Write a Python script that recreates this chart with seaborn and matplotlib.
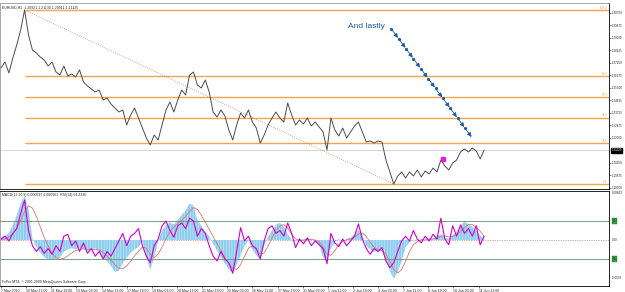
import numpy as np
import pandas as pd
import matplotlib
matplotlib.use("Agg")
import matplotlib.pyplot as plt
import matplotlib.transforms as mtransforms
import seaborn as sns

# hourly bars, sampled every 5 bars
bars = list(range(0, 616, 5))
close = [
    1.2688, 1.2730, 1.2653, 1.2758, 1.2849, 1.2954, 1.3094, 1.2919, 1.2814, 1.2793,
    1.2765, 1.2744, 1.2702, 1.2730, 1.2660, 1.2639, 1.2702, 1.2632, 1.2646, 1.2625,
    1.2674, 1.2590, 1.2562, 1.2541, 1.2520, 1.2534, 1.2464, 1.2478, 1.2436, 1.2408,
    1.2380, 1.2394, 1.2289, 1.2359, 1.2408, 1.2338, 1.2268, 1.2198, 1.2149, 1.2219,
    1.2184, 1.2289, 1.2394, 1.2450, 1.2380, 1.2464, 1.2534, 1.2499, 1.2639, 1.2660,
    1.2569, 1.2548, 1.2604, 1.2520, 1.2380, 1.2345, 1.2394, 1.2352, 1.2254, 1.2184,
    1.2289, 1.2373, 1.2338, 1.2394, 1.2310, 1.2268, 1.2163, 1.2219, 1.2289, 1.2338,
    1.2380, 1.2338, 1.2310, 1.2443, 1.2359, 1.2289, 1.2324, 1.2296, 1.2338, 1.2282,
    1.2310, 1.2275, 1.2240, 1.2114, 1.2338, 1.2254, 1.2212, 1.2268, 1.2198, 1.2240,
    1.2282, 1.2310, 1.2240, 1.2170, 1.2177, 1.2163, 1.2177, 1.2170, 1.2044, 1.1960,
    1.1876, 1.1932, 1.1960, 1.1918, 1.1960, 1.1932, 1.1974, 1.1925, 1.1967, 1.1946,
    1.1988, 1.1960, 1.2044, 1.2002, 1.1974, 1.2023, 1.2044, 1.2100, 1.2121, 1.2100,
    1.2128, 1.2107, 1.2051, 1.2113,
]
macd_main = [
    0.0005, 0.0007, 0.0012, 0.0025, 0.0042, 0.0062, 0.0075, 0.0052, 0.0002, -0.0012,
    -0.0022, -0.0029, -0.0033, -0.0034, -0.0032, -0.0030, -0.0020, -0.0016, -0.0014, -0.0016,
    -0.0013, -0.0015, -0.0018, -0.0016, -0.0014, -0.0020, -0.0030, -0.0036, -0.0044, -0.0054,
    -0.0052, -0.0040, -0.0030, -0.0022, -0.0016, -0.0012, -0.0002, -0.0030, -0.0050, -0.0030,
    -0.0002, 0.0016, 0.0025, 0.0030, 0.0026, 0.0034, 0.0042, 0.0050, 0.0062, 0.0058,
    0.0034, 0.0024, 0.0014, 0.0006, -0.0006, -0.0018, -0.0030, -0.0040, -0.0050, -0.0056,
    -0.0042, -0.0026, -0.0010, 0.0000, -0.0016, -0.0026, -0.0031, -0.0010, 0.0006, 0.0016,
    0.0026, 0.0029, 0.0022, 0.0010, 0.0000, -0.0003, 0.0003, -0.0002, 0.0004, 0.0001,
    -0.0003, -0.0008, -0.0030, -0.0036, -0.0014, -0.0004, 0.0002, -0.0003, 0.0002, 0.0004,
    0.0010, 0.0017, 0.0008, -0.0010, -0.0016, -0.0020, -0.0018, -0.0017, -0.0034, -0.0052,
    -0.0066, -0.0054, -0.0036, -0.0012, -0.0004, 0.0001, -0.0002, 0.0002, 0.0000, 0.0003,
    0.0001, 0.0006, 0.0010, 0.0004, 0.0002, 0.0008, 0.0014, 0.0024, 0.0031, 0.0027,
    0.0022, 0.0016, 0.0008, 0.0001,
]
macd_signal = [
    0.0000, 0.0002, 0.0005, 0.0010, 0.0020, 0.0033, 0.0048, 0.0058, 0.0054, 0.0040,
    0.0022, 0.0004, -0.0010, -0.0022, -0.0030, -0.0033, -0.0031, -0.0027, -0.0022, -0.0018,
    -0.0016, -0.0015, -0.0016, -0.0016, -0.0016, -0.0017, -0.0021, -0.0027, -0.0034, -0.0042,
    -0.0048, -0.0049, -0.0044, -0.0036, -0.0027, -0.0019, -0.0012, -0.0014, -0.0024, -0.0030,
    -0.0024, -0.0012, 0.0002, 0.0014, 0.0022, 0.0028, 0.0033, 0.0040, 0.0048, 0.0055,
    0.0052, 0.0042, 0.0030, 0.0018, 0.0006, -0.0006, -0.0018, -0.0030, -0.0040, -0.0048,
    -0.0050, -0.0042, -0.0028, -0.0014, -0.0010, -0.0016, -0.0024, -0.0022, -0.0010, 0.0004,
    0.0016, 0.0024, 0.0026, 0.0020, 0.0010, 0.0002, -0.0001, 0.0000, 0.0001, 0.0001,
    0.0000, -0.0003, -0.0012, -0.0024, -0.0026, -0.0018, -0.0008, -0.0002, 0.0000, 0.0002,
    0.0005, 0.0010, 0.0012, 0.0006, -0.0004, -0.0012, -0.0017, -0.0018, -0.0024, -0.0036,
    -0.0050, -0.0056, -0.0050, -0.0036, -0.0020, -0.0008, -0.0003, 0.0000, 0.0000, 0.0001,
    0.0002, 0.0003, 0.0006, 0.0007, 0.0005, 0.0006, 0.0009, 0.0014, 0.0021, 0.0026,
    0.0026, 0.0022, 0.0015, 0.0006,
]
rsi = [
    51, 54, 49, 57, 62, 78, 92, 60, 44, 38,
    43, 36, 41, 35, 44, 38, 54, 56, 44, 49,
    38, 47, 36, 41, 33, 38, 30, 38, 33, 41,
    49, 57, 44, 54, 57, 62, 44, 33, 26, 44,
    51, 65, 70, 60, 53, 65, 68, 62, 73, 70,
    54, 62, 57, 44, 33, 28, 38, 30, 26, 15,
    38, 63, 49, 54, 44, 41, 30, 49, 62, 65,
    57, 60, 54, 68, 57, 42, 51, 46, 52, 44,
    49, 45, 41, 25, 57, 47, 43, 51, 44, 49,
    54, 67, 51, 41, 35, 41, 38, 42, 28, 21,
    26, 38, 49, 54, 49, 60, 51, 47, 54, 49,
    56, 51, 73, 51, 45, 65, 54, 66, 57, 62,
    54, 65, 45, 54,
]

swing_high, high_bar = 1.3094, 30
swing_low, low_bar = 1.1876, 500
fib_levels = [0.0, 23.6, 38.2, 50.0, 61.8, 100.0]
last_price = 1.21125
marker_bar, marker_price = 563, 1.2054

price_ticks = [1.18500, 1.19375, 1.20250, 1.22000, 1.22875, 1.23750, 1.24625,
               1.25500, 1.26375, 1.27250, 1.28125, 1.29000, 1.29875, 1.30750]
time_ticks = list(range(0, 609, 32))
time_labels = ["7 May 2010", "10 May 11:00", "11 May 19:00", "13 May 03:00", "14 May 11:00",
               "17 May 19:00", "19 May 03:00", "20 May 11:00", "21 May 19:00", "25 May 03:00",
               "26 May 11:00", "27 May 19:00", "31 May 03:00", "1 Jun 11:00", "2 Jun 19:00",
               "4 Jun 03:00", "7 Jun 11:00", "8 Jun 19:00", "10 Jun 03:00", "11 Jun 11:00"]

title_text = "EURUSD,H1  1.20921 1.21130 1.20911 1.21125"
ind_text = "MACD(12,26,9) 0.000097 0.000561  RSI(14) 54.2236"
copy_text = "FxPro MT4, \u00a9 2001-2009 MetaQuotes Software Corp."

df = pd.DataFrame({"bar": bars, "close": close, "macd": macd_main,
                   "signal": macd_signal, "rsi": rsi})

sns.set_style("white")
plt.rcParams["font.family"] = ["Liberation Sans", "DejaVu Sans"]
plt.rcParams["hatch.linewidth"] = 0.35
FS = 2.5
FSR = 2.2
FIB = "#f2a54a"
BLUE = "#1b5aa6"

W, H = 625, 292
RIGHT = 609
fig = plt.figure(figsize=(W / 100, H / 100), dpi=100)
ax = fig.add_axes([0, 1 - 189 / H, RIGHT / W, 186 / H])
axi = fig.add_axes([0, 1 - 286 / H, RIGHT / W, 95 / H], sharex=ax)
xmin, xmax = -1.3, 774

# ---- price panel
ax.axhline(last_price, color="#cfcfcf", lw=0.6, zorder=1)
for lvl in fib_levels:
    p = swing_low + (swing_high - swing_low) * lvl / 100
    ax.hlines(p, high_bar, xmax, color=FIB, lw=1.0, zorder=2)
    ax.text(xmax - 2, p + 0.0003, f"{lvl:.1f}", ha="right", va="bottom",
            fontsize=FSR, color=FIB)
ax.plot([high_bar, low_bar], [swing_high, swing_low], ls=(0, (1, 1.5)),
        color="#c98a8a", lw=0.6, zorder=2)
sns.lineplot(data=df, x="bar", y="close", ax=ax, color="#4d4d4d", lw=0.7, zorder=3)
ax.plot(marker_bar, marker_price, marker="s", ms=3, color="#e020e0", zorder=4)

# "And lastly" arrow chain
ax.text(465, 1.2982, "And lastly", ha="center", va="center", fontsize=6, color=BLUE)
sx, sy, ex, ey = 497, 1.2961, 600, 1.2198
n = 11
for k in range(n):
    x0 = sx + (ex - sx) * k / n
    y0 = sy + (ey - sy) * k / n
    x1 = sx + (ex - sx) * (k + 0.9) / n
    y1 = sy + (ey - sy) * (k + 0.9) / n
    ax.annotate("", xy=(x1, y1), xytext=(x0, y0),
                arrowprops=dict(arrowstyle="-|>,head_length=0.25,head_width=0.12",
                                color=BLUE, lw=0.6, shrinkA=0, shrinkB=0))
    ax.plot(x0, y0, "o", ms=1.3, color=BLUE)

ax.text(0.004, 0.985, title_text, transform=ax.transAxes, ha="left", va="top", fontsize=FS)
tr = mtransforms.blended_transform_factory(ax.transAxes, ax.transData)
ax.text(1.004, last_price, "1.21125", transform=tr, ha="left", va="center",
        fontsize=FSR, color="white", clip_on=False,
        bbox=dict(boxstyle="square,pad=0.12", fc="black", ec="black"))

ax.set_xlim(xmin, xmax)
ax.set_ylim(1.1841, 1.3143)
ax.yaxis.tick_right()
ax.set_yticks(price_ticks)
ax.set_yticklabels([f"{v:.5f}" for v in price_ticks])
ax.tick_params(axis="y", labelsize=FSR, length=1.5, width=0.4, pad=0.8, right=True)
ax.tick_params(axis="x", bottom=False, labelbottom=False)
ax.set_xlabel("")
ax.set_ylabel("")

# ---- indicator panel
axi.axhline(0, color="#b06060", ls=(0, (1, 1.5)), lw=0.5, zorder=1)
axi.fill_between(df["bar"], df["macd"], 0, facecolor="#8fcdee", edgecolor="#d6eefa",
                 hatch="||||||", lw=0, zorder=2)
sns.lineplot(data=df, x="bar", y="signal", ax=axi, color="#d9776f", lw=0.6, zorder=3)
axi.set_ylim(-0.0078, 0.0083)
axi.set_yticks([])
axi.set_xticks(time_ticks)
axi.set_xticklabels(time_labels, ha="left")
axi.tick_params(axis="x", labelsize=FS, length=1.5, width=0.4, pad=0.5, bottom=True)
axi.set_xlabel("")
axi.set_ylabel("")

axr = axi.twinx()
axr.axhline(70, color="#6a8f6a", lw=0.6)
axr.axhline(30, color="#6a8f6a", lw=0.6)
sns.lineplot(data=df, x="bar", y="rsi", ax=axr, color="#d000d0", lw=0.8)
axr.set_ylim(1.6, 101.6)
axr.set_yticks([])
axr.set_ylabel("")
for s in axr.spines.values():
    s.set_visible(False)

trr = mtransforms.blended_transform_factory(axr.transAxes, axr.transData)
for lv in (70, 30):
    axr.text(1.006, lv, str(lv), transform=trr, ha="left", va="center", fontsize=FSR,
             color="#0c2a0c", clip_on=False,
             bbox=dict(boxstyle="square,pad=0.2", fc="#3f9a3f", ec="#2c6a2c", lw=0.3))
for yf, lab in ((0.975, "0.00843"), (0.484, "0.00"), (0.085, "-0.0078")):
    axi.text(1.004, yf, lab, transform=axi.transAxes, ha="left", va="center",
             fontsize=FSR, clip_on=False)
axi.text(0.004, 0.975, ind_text, transform=axi.transAxes, ha="left", va="top", fontsize=FS)
axi.text(0.004, 0.02, copy_text, transform=axi.transAxes, ha="left", va="bottom", fontsize=FS)

for a in (ax, axi):
    for side, s in a.spines.items():
        s.set_linewidth(0.6)
        s.set_color("black" if side in ("right", "bottom") else "#9a9a9a")
axi.spines["top"].set_color("black")

fig.savefig("out.png", dpi=100)
